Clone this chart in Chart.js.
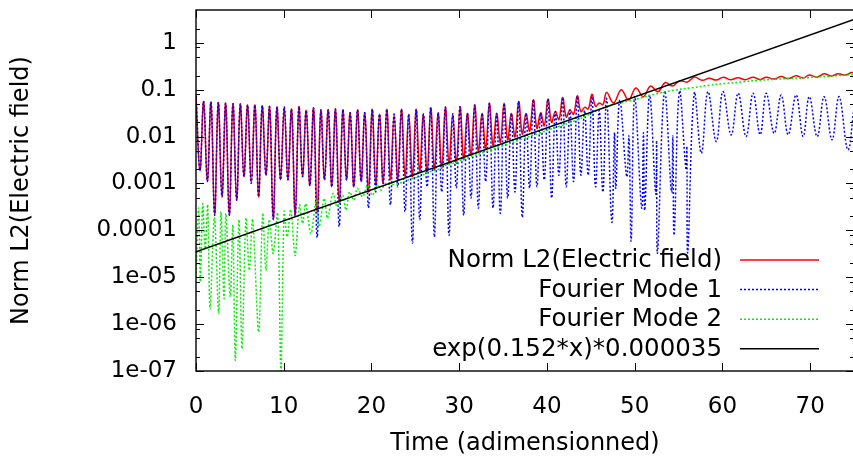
<!DOCTYPE html>
<html>
<head>
<meta charset="utf-8">
<script src="https://cdn.jsdelivr.net/npm/chart.js@4.4.1/dist/chart.umd.min.js"></script>
<style>
  html, body { margin: 0; padding: 0; background: #fff; overflow: hidden; }
  #wrap { width: 856px; height: 458px; }
</style>
</head>
<body>
<div id="wrap"><canvas id="plot"></canvas></div>
<script>
// axes
const xTicks = [0, 10, 20, 30, 40, 50, 60, 70]
const yTicks = [1e-7, 1e-6, 1e-5, 1e-4, 1e-3, 1e-2, 1e-1, 1]
const yTickLabels = ['1e-07', '1e-06', '1e-05', '0.0001', '0.001', '0.01', '0.1', '1']
const yMinorSteps = [2, 5, 8]

// fast oscillation phase: troughs and arch tops, shared by |E| and mode 1
const tFast = [0,
  0.45, 0.87, 1.29, 1.71, 2.12, 2.54, 2.96, 3.38, 3.79, 4.21,
  4.63, 5.05, 5.46, 5.88, 6.30, 6.72, 7.13, 7.55, 7.97, 8.39,
  8.80, 9.22, 9.64, 10.06, 10.47, 10.89, 11.31, 11.73, 12.14, 12.56,
  12.98, 13.40, 13.81, 14.23, 14.65, 15.07, 15.48, 15.90, 16.32, 16.74,
  17.15, 17.57, 17.99, 18.41, 18.82, 19.24, 19.66, 20.08, 20.49, 20.91,
  21.33, 21.75, 22.16, 22.58, 23.00, 23.42, 23.83, 24.25, 24.67, 25.09,
  25.50, 25.92, 26.34, 26.76, 27.17, 27.59, 28.01, 28.43, 28.84, 29.26,
  29.68, 30.10, 30.51, 30.93, 31.35, 31.77, 32.18, 32.60, 33.02, 33.44,
  33.85, 34.27, 34.69, 35.11, 35.52, 35.94, 36.36, 36.78, 37.19, 37.61,
  38.03, 38.45, 38.86, 39.28, 39.70, 40.12, 40.53, 40.95, 41.37, 41.79,
  42.20, 42.62, 43.04, 43.46, 43.87, 44.29, 44.71, 45.13, 45.54, 45.96,
  46.38, 46.80]

const normEFast = [0.075,
  1.9e-3, 0.056, 1.1e-3, 0.054, 2.1e-4, 0.053, 5.2e-4, 0.051, 2.1e-4, 0.050,
  4.4e-4, 0.049, 1.4e-3, 0.047, 1.0e-3, 0.047, 5.2e-4, 0.045, 1.5e-3, 0.043,
  1.7e-4, 0.042, 1.2e-3, 0.043, 1.2e-3, 0.038, 2.1e-4, 0.043, 1.4e-3, 0.036,
  9.0e-4, 0.040, 2.3e-4, 0.036, 1.2e-3, 0.037, 8.5e-4, 0.038, 3.8e-4, 0.037,
  1.2e-3, 0.032, 8.5e-4, 0.037, 1.1e-3, 0.032, 6.6e-4, 0.038, 9.3e-4, 0.030,
  1.0e-3, 0.038, 1.2e-3, 0.030, 1.2e-3, 0.038, 1.4e-3, 0.030, 1.4e-3, 0.038,
  1.8e-3, 0.030, 1.7e-3, 0.041, 1.9e-3, 0.032, 2.1e-3, 0.042, 2.7e-3, 0.030,
  2.7e-3, 0.043, 3.2e-3, 0.031, 4.0e-3, 0.047, 4.8e-3, 0.031, 5.5e-3, 0.051,
  6.4e-3, 0.031, 7.4e-3, 0.051, 8.5e-3, 0.031, 9.8e-3, 0.056, 0.0113, 0.031,
  0.013, 0.061, 0.015, 0.032, 0.017, 0.063, 0.020, 0.034, 0.023, 0.068,
  0.026, 0.037, 0.030, 0.074, 0.034, 0.042, 0.039, 0.080, 0.044, 0.052,
  0.048, 0.087]

const mode1Fast = [0.075,
  1.9e-3, 0.056, 1.1e-3, 0.054, 2.1e-4, 0.053, 5.2e-4, 0.051, 2.1e-4, 0.050,
  4.4e-4, 0.049, 1.4e-3, 0.047, 1.0e-3, 0.047, 5.2e-4, 0.045, 1.5e-3, 0.043,
  1.7e-4, 0.042, 1.2e-3, 0.043, 1.2e-3, 0.038, 2.1e-4, 0.043, 1.4e-3, 0.036,
  9.0e-4, 0.040, 7.0e-5, 0.036, 1.2e-3, 0.037, 8.5e-4, 0.038, 1.2e-4, 0.037,
  1.2e-3, 0.032, 8.5e-4, 0.037, 1.1e-3, 0.032, 3.0e-4, 0.038, 6.6e-4, 0.030,
  1.0e-3, 0.038, 3.5e-4, 0.030, 8.5e-4, 0.038, 2.5e-4, 0.030, 5.4e-5, 0.038,
  1.7e-4, 0.030, 8.5e-4, 0.041, 7.3e-5, 0.032, 6.6e-4, 0.042, 7.9e-5, 0.030,
  8.0e-4, 0.043, 2.1e-4, 0.031, 4.9e-4, 0.047, 3.0e-4, 0.031, 1.1e-3, 0.051,
  3.0e-4, 0.031, 2.3e-4, 0.051, 4.9e-4, 0.031, 6.6e-4, 0.056, 1.9e-4, 0.031,
  8.0e-4, 0.061, 8.5e-4, 0.032, 1.2e-3, 0.063, 4.9e-4, 0.034, 1.5e-3, 0.068,
  8.5e-4, 0.037, 1.1e-3, 0.072, 1.5e-3, 0.036, 1.5e-3, 0.072, 8.5e-4, 0.036,
  6.6e-4, 0.065]

// saturation phase
const tNormELate = [47.60, 48.47, 49.30, 50.14, 51.00, 51.81, 52.65, 53.48, 54.30, 55.15,
  56.00, 56.80, 57.70, 58.50, 59.30, 60.10, 60.90, 61.80, 62.60, 63.50,
  64.30, 65.00, 65.90, 66.70, 67.50, 68.40, 69.20, 69.90, 70.80, 71.60,
  72.40, 73.20, 74.00, 74.70, 75.00]
const normELate = [0.052, 0.100, 0.060, 0.108, 0.071, 0.120, 0.090, 0.142, 0.120, 0.155,
  0.145, 0.185, 0.158, 0.175, 0.160, 0.185, 0.162, 0.180, 0.163, 0.185,
  0.165, 0.185, 0.168, 0.190, 0.172, 0.197, 0.178, 0.205, 0.185, 0.218,
  0.195, 0.218, 0.205, 0.232, 0.225]

const tMode1Late = [47.40, 47.70, 47.85, 48.30, 49.10, 49.35, 49.60, 50.00, 50.80, 51.00,
  51.15, 51.70, 52.40, 52.50, 52.60, 53.40, 54.20, 54.35, 54.50, 55.10,
  55.85, 55.95, 56.05, 56.80, 57.60, 58.35, 59.30, 60.06, 61.00, 61.80,
  62.70, 63.50, 64.30, 65.00, 65.90, 66.70, 67.50, 68.40, 69.20, 69.90,
  70.80, 71.60, 72.50, 73.30, 74.30, 75.00]
const mode1Late = [1.5e-4, 0.012, 8.0e-4, 0.060, 1.4e-3, 0.010, 6.0e-5, 0.071, 3.0e-4, 0.012,
  2.7e-4, 0.077, 6.0e-4, 0.008, 3.3e-5, 0.091, 6.6e-4, 0.010, 8.0e-5, 0.091,
  2.0e-3, 0.006, 3.4e-5, 0.084, 4.4e-3, 0.091, 7.8e-3, 0.091, 0.0108, 0.084,
  0.010, 0.084, 0.011, 0.084, 0.0117, 0.077, 0.011, 0.077, 0.010, 0.071,
  0.010, 0.071, 0.0085, 0.071, 0.0052, 0.040]

const tMode2 = [0, 0.30, 0.50, 0.76, 1.05, 1.33, 1.60, 2.10, 2.58, 2.85,
  3.20, 3.40, 3.90, 4.20, 4.48, 4.90, 5.24, 5.70, 6.07, 6.45,
  7.14, 7.60, 7.97, 8.35, 8.80, 9.30, 9.68, 10.05, 10.40, 10.80,
  11.30, 11.80, 12.15, 12.50, 13.10, 13.70, 14.05, 14.60, 15.00, 15.60,
  16.10, 16.70, 17.10, 17.50, 18.00, 18.40, 19.00, 19.55, 20.10, 20.70,
  21.10, 21.60, 22.50, 23.50, 24.50, 25.50, 26.50, 27.50, 28.50, 29.50,
  30.50, 32.00, 34.00, 36.00, 38.00, 40.00, 42.00, 44.00, 46.00, 47.90,
  49.80, 51.70, 53.60, 55.50, 57.40, 59.30, 61.20, 63.10, 65.00, 66.90,
  68.80, 71.80, 75.00]
const mode2 = [1.0e-5, 3.0e-4, 8.0e-6, 3.7e-4, 4.0e-5, 3.5e-4, 2.1e-6, 1.9e-4, 1.7e-6, 2.5e-4,
  3.5e-6, 2.3e-4, 3.8e-6, 1.3e-4, 1.7e-7, 1.7e-4, 3.0e-7, 1.8e-4, 1.4e-5, 1.7e-4,
  6.8e-7, 2.3e-4, 1.4e-5, 1.7e-4, 3.2e-5, 2.3e-4, 1.0e-7, 2.5e-4, 7.3e-5, 2.8e-4,
  2.9e-5, 3.5e-4, 1.4e-4, 3.7e-4, 8.5e-5, 4.4e-4, 1.2e-4, 4.8e-4, 1.8e-4, 6.1e-4,
  3.2e-4, 5.6e-4, 2.7e-4, 6.6e-4, 4.4e-4, 7.9e-4, 5.2e-4, 9.3e-4, 5.6e-4, 9.3e-4,
  7.2e-4, 1.0e-3, 9.5e-4, 1.05e-3, 1.25e-3, 1.4e-3, 1.75e-3, 1.95e-3, 2.45e-3, 2.75e-3,
  3.3e-3, 4.1e-3, 5.5e-3, 7.4e-3, 0.0100, 0.0135, 0.018, 0.025, 0.038, 0.050,
  0.060, 0.075, 0.091, 0.104, 0.116, 0.130, 0.140, 0.152, 0.162, 0.170,
  0.176, 0.192, 0.210]

// exp(0.152*x)*0.000035, straight on the log axis: its two ends
const tExp = [0, 75]
const expFit = [3.5e-5, 3.13]

const FONT = "'DejaVu Sans', sans-serif"

function toPoints(ts, vs) {
  return ts.map((t, i) => ({ x: t, y: vs[i] }))
}

// no extra room for edge labels, the frame is fixed
function noEdgePadding(scale) {
  scale.paddingTop = 0
  scale.paddingBottom = 0
  scale.paddingLeft = 0
  scale.paddingRight = 0
}

// gnuplot style frame: inward ticks on all four sides, key inside bottom right
const gnuplotFrame = {
  id: 'gnuplotFrame',
  afterDatasetsDraw(chart) {
    const { ctx, chartArea: a, scales: { x, y } } = chart
    ctx.save()
    ctx.strokeStyle = '#000'
    ctx.lineWidth = 1
    ctx.setLineDash([])
    ctx.beginPath()
    xTicks.forEach(v => {
      const px = Math.round(x.getPixelForValue(v)) + 0.5
      ctx.moveTo(px, a.bottom)
      ctx.lineTo(px, a.bottom - 8)
      ctx.moveTo(px, a.top)
      ctx.lineTo(px, a.top + 8)
    })
    yTicks.forEach(v => {
      const py = Math.round(y.getPixelForValue(v)) + 0.5
      ctx.moveTo(a.left, py)
      ctx.lineTo(a.left + 8, py)
      ctx.moveTo(a.right, py)
      ctx.lineTo(a.right - 8, py)
      yMinorSteps.forEach(m => {
        if (v * m >= y.max) return
        const my = Math.round(y.getPixelForValue(v * m)) + 0.5
        ctx.moveTo(a.left, my)
        ctx.lineTo(a.left + 4, my)
        ctx.moveTo(a.right, my)
        ctx.lineTo(a.right - 4, my)
      })
    })
    ctx.stroke()

    ctx.lineWidth = 1.4
    ctx.strokeRect(a.left, a.top, a.right - a.left, a.bottom - a.top)

    // key
    ctx.font = '24.5px ' + FONT
    ctx.textAlign = 'right'
    ctx.textBaseline = 'alphabetic'
    chart.data.datasets.forEach((ds, i) => {
      const base = a.bottom - 104 + i * 29.6
      ctx.fillStyle = '#000'
      ctx.fillText(ds.label, a.right - 132, base)
      ctx.strokeStyle = ds.borderColor
      ctx.lineWidth = ds.borderWidth
      ctx.setLineDash(ds.borderDash || [])
      ctx.beginPath()
      ctx.moveTo(a.right - 114, base - 7)
      ctx.lineTo(a.right - 35, base - 7)
      ctx.stroke()
    })
    ctx.restore()
  }
}

const ctx = document.getElementById('plot').getContext('2d')
new Chart(ctx, {
  type: 'line',
  data: {
    datasets: [
      {
        label: 'Norm L2(Electric field)',
        data: toPoints(tFast, normEFast).concat(toPoints(tNormELate, normELate)),
        borderColor: '#ff0000',
        borderWidth: 1.5,
        tension: 0.4,
        order: 3
      },
      {
        label: 'Fourier Mode 1',
        data: toPoints(tFast, mode1Fast).concat(toPoints(tMode1Late, mode1Late)),
        borderColor: '#0000ff',
        borderWidth: 1.5,
        borderDash: [2, 2],
        tension: 0.4,
        order: 2
      },
      {
        label: 'Fourier Mode 2',
        data: toPoints(tMode2, mode2),
        borderColor: '#00f000',
        borderWidth: 1.5,
        borderDash: [2, 2],
        tension: 0.3,
        order: 1
      },
      {
        label: 'exp(0.152*x)*0.000035',
        data: toPoints(tExp, expFit),
        borderColor: '#000000',
        borderWidth: 1.5,
        order: 0
      }
    ]
  },
  options: {
    responsive: true,
    maintainAspectRatio: false,
    animation: false,
    events: [],
    layout: { padding: { left: 0, right: 2, top: 10, bottom: 0 } },
    elements: { point: { radius: 0 } },
    plugins: {
      legend: { display: false },
      tooltip: { enabled: false }
    },
    scales: {
      x: {
        type: 'linear',
        min: 0,
        max: 75,
        grid: { display: false, drawTicks: false, tickLength: 0 },
        border: { display: false },
        afterBuildTicks: scale => {
          scale.ticks = xTicks.map(v => ({ value: v }))
        },
        afterFit: scale => {
          scale.height = 87
          noEdgePadding(scale)
        },
        ticks: {
          padding: 22,
          maxRotation: 0,
          color: '#000',
          font: { family: FONT, size: 23 }
        },
        title: {
          display: true,
          text: 'Time (adimensionned)',
          color: '#000',
          padding: { top: 0, bottom: 2 },
          font: { family: FONT, size: 24, lineHeight: 1 }
        }
      },
      y: {
        type: 'logarithmic',
        min: 1e-7,
        max: 5,
        grid: { display: false, drawTicks: false, tickLength: 0 },
        border: { display: false },
        afterBuildTicks: scale => {
          scale.ticks = yTicks.map(v => ({ value: v }))
        },
        afterFit: scale => {
          scale.width = 196
          noEdgePadding(scale)
        },
        ticks: {
          padding: 19,
          color: '#000',
          font: { family: FONT, size: 23 },
          callback: (v, i) => yTickLabels[i]
        },
        title: {
          display: true,
          text: 'Norm L2(Electric field)',
          color: '#000',
          padding: { top: 10, bottom: 0 },
          font: { family: FONT, size: 24, lineHeight: 1 }
        }
      }
    }
  },
  plugins: [gnuplotFrame]
})
</script>
</body>
</html>
